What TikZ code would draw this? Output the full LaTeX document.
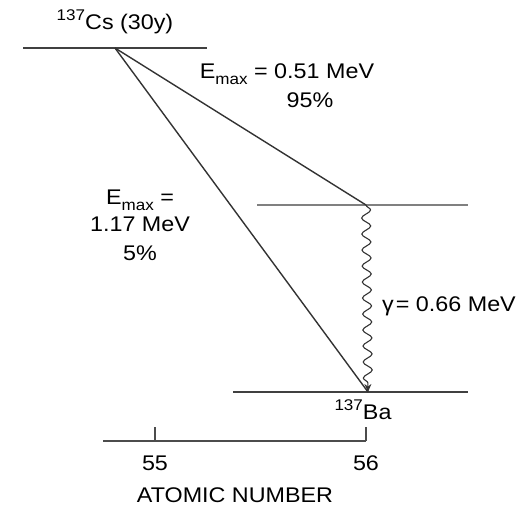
\documentclass[tikz,border=0pt]{standalone}
\usepackage{fontspec}
\setmainfont[FakeStretch=1.1]{Liberation Sans}
\usetikzlibrary{positioning,arrows.meta,decorations.pathmorphing}

\newcommand{\mass}[1]{\raisebox{0.42em}{\fontsize{15.5}{16}\selectfont #1}}
\newcommand{\lowsub}[1]{\raisebox{-0.28em}{\fontsize{15.5}{16}\selectfont #1}}

\begin{document}
\begin{tikzpicture}[
  x=1pt,y=-1pt,
  level/.style={line width=2.2pt,draw=black!75},
  midlevel/.style={line width=2.2pt,draw=black!50},
  decay/.style={line width=1.4pt,draw=black!80},
  gammaray/.style={line width=1.1pt,draw=black!80,-{Stealth[length=8pt,width=7pt]},
    decorate,decoration={snake,amplitude=4.5pt,segment length=16pt,post length=8pt}},
  axisline/.style={line width=2.2pt,draw=black!70},
  lbl/.style={font=\fontsize{21.2}{23}\selectfont,inner sep=1pt,align=center},
]
\useasboundingbox (0,0) rectangle (525,506);

% Parent level: Cs-137
\coordinate (csL) at (23,48);
\coordinate (csR) at (207,48);
\coordinate (cs) at (115,48);
\draw[level] (csL) -- (csR);
\node[lbl] (cslab) at (115,22) {\mass{137}Cs (30y)};

% Excited level of Ba-137
\coordinate (exL) at (257,205);
\coordinate (exR) at (468,205);
\coordinate (ex) at (366,205);
\draw[midlevel] (exL) -- (exR);

% Ground level of Ba-137
\coordinate (gsL) at (233,392);
\coordinate (gsR) at (468,392);
\coordinate (gs) at (368,392);
\draw[level] (gsL) -- (gsR);
\node[lbl] (balab) at (363,410) {\mass{137}Ba};

% Beta branches
\draw[decay] (cs) -- (ex);
\draw[decay] (cs) -- (gs);
\node[lbl] (b1) at (287,74) {E\lowsub{max} = 0.51 MeV};
\node[lbl] (b1p) at (310,100) {95\%};
\node[lbl] (b2) at (140,200) {E\lowsub{max} =};
\node[lbl] (b2e) at (140,224) {1.17 MeV};
\node[lbl] (b2p) at (140,253) {5\%};

% Gamma transition
\draw[gammaray] (ex) -- (gs);
\node[lbl] (glab) at (449,306) {γ\kern2pt= 0.66 MeV};

% Atomic number axis
\coordinate (axL) at (103,441);
\coordinate (t55) at (155,441);
\coordinate (t56) at (366,441);
\draw[axisline] (axL) -- (t56);
\draw[axisline] (t55) -- ++(0,-14);
\draw[axisline] (t56) -- ++(0,-14);
\node[lbl] (n55) at (155,463) {55};
\node[lbl] (n56) at (366,463) {56};
\node[lbl] (axlab) at (235,495) {ATOMIC NUMBER};
\end{tikzpicture}
\end{document}
